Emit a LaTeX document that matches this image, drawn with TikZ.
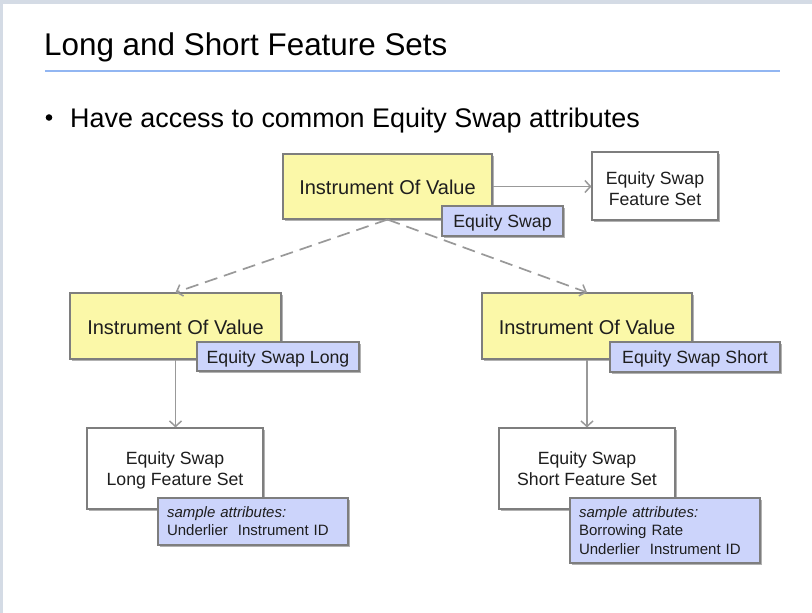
\documentclass[tikz,border=0pt]{standalone}
\usepackage{fontspec}
\setmainfont{Liberation Sans}
\usetikzlibrary{arrows.meta,shadows}

\definecolor{framec}{HTML}{D4DBE5}
\definecolor{rulec}{HTML}{92B6F2}
\definecolor{textc}{HTML}{1E1E1E}
\definecolor{ivfill}{HTML}{FBF8A8}
\definecolor{tagfill}{HTML}{CCD4FB}
\definecolor{boxline}{HTML}{7E7E7E}
\definecolor{linkc}{HTML}{999999}

% content drawn #1 lower while keeping its measured size
\newcommand\lowered[2]{\raisebox{-#1}[\height][\depth]{#2}}
\newcommand\twolines[2]{\lowered{#1}{\begin{tabular}{@{}c@{}}#2\end{tabular}}}
\newcommand\leftlines[2]{\lowered{#1}{\begin{tabular}{@{}l@{}}#2\end{tabular}}}

\tikzset{
  box/.style={draw=boxline, line width=1.1pt, inner sep=0pt, align=center,
    text=textc,
    drop shadow={shadow xshift=1.5pt, shadow yshift=-1.5pt, opacity=0.3, fill=black}},
  ivbox/.style={box, fill=ivfill, font=\fontsize{20}{24}\selectfont},
  tagbox/.style={box, fill=tagfill, font=\fontsize{17.7}{21}\selectfont},
  fsbox/.style={box, fill=white, font=\fontsize{17.7}{21}\selectfont},
  attrbox/.style={box, fill=tagfill, font=\fontsize{15}{18.5}\selectfont,
    align=left, text width=172pt, inner xsep=9pt, minimum width=190pt},
  link/.style={draw=linkc, line width=1.7pt,
    -{Straight Barb[length=5.5pt,width=12pt,line width=1.5pt]}},
  dashlink/.style={link, dash pattern=on 13pt off 7pt}
}

\begin{document}
\begin{tikzpicture}[x=1pt,y=-1pt]
  % page and frame
  \fill[white] (0,0) rectangle (812,613);
  \fill[framec] (0,0) rectangle (812,4);
  \fill[framec] (0,0) rectangle (3,613);
  \useasboundingbox (0,0) rectangle (812,613);

  % heading
  \node[anchor=base west, inner sep=0pt, text=black,
        font=\fontsize{31.4}{36}\selectfont] (title) at (44,56)
        {Long and Short Feature Sets};
  \draw[rulec, line width=2.5pt] (45,71) -- (780,71);

  % bullet line
  \node[circle, fill=black, inner sep=0pt, minimum size=6.6pt] (dot) at (49,117.5) {};
  \node[anchor=base west, inner sep=0pt, text=black,
        font=\fontsize{26.9}{32}\selectfont] (point) at (70,127.5)
        {Have access to common Equity Swap attributes};

  % top level
  \node[ivbox, minimum width=209pt, minimum height=65pt] (top) at (387.5,186.5)
        {\lowered{1pt}{Instrument Of Value}};
  \node[tagbox, minimum width=121pt, minimum height=30pt] (toptag) at (502.5,221)
        {\lowered{2pt}{Equity Swap}};
  \node[fsbox, minimum width=126pt, minimum height=68pt] (topfs) at (655,186)
        {\twolines{4.5pt}{Equity Swap\\Feature Set}};

  % long side
  \node[ivbox, minimum width=211pt, minimum height=66pt] (long) at (175.5,326)
        {\lowered{1pt}{Instrument Of Value}};
  \node[tagbox, minimum width=162pt, minimum height=29pt] (longtag) at (278,356.5)
        {\lowered{2pt}{Equity Swap Long}};
  \node[fsbox, minimum width=176pt, minimum height=81pt] (longfs) at (175,468.5)
        {\twolines{2pt}{Equity Swap\\Long Feature Set}};
  \node[attrbox, minimum height=47pt] (longattr) at (253,521.5)
        {\leftlines{1.5pt}{\textit{sample attributes:}\\Underlier\ \ Instrument ID}};

  % short side
  \node[ivbox, minimum width=210pt, minimum height=66pt] (short) at (587,326)
        {\lowered{1pt}{Instrument Of Value}};
  \node[tagbox, minimum width=170pt, minimum height=30pt] (shorttag) at (695,357)
        {\lowered{2pt}{Equity Swap Short}};
  \node[fsbox, minimum width=176pt, minimum height=81pt] (shortfs) at (587,468.5)
        {\twolines{2pt}{Equity Swap\\Short Feature Set}};
  \node[attrbox, minimum height=65pt] (shortattr) at (665,530.5)
        {\leftlines{1.5pt}{\textit{sample attributes:}\\Borrowing Rate\\Underlier\ \ Instrument ID}};

  % connectors
  \draw[link] (top.east) -- (top.east -| topfs.west);
  \draw[dashlink] (top.south) -- (long.north);
  \draw[dashlink] (top.south) -- (short.north);
  \draw[link] (long.south) -- (long.south |- longfs.north);
  \draw[link] (short.south) -- (short.south |- shortfs.north);
\end{tikzpicture}
\end{document}
